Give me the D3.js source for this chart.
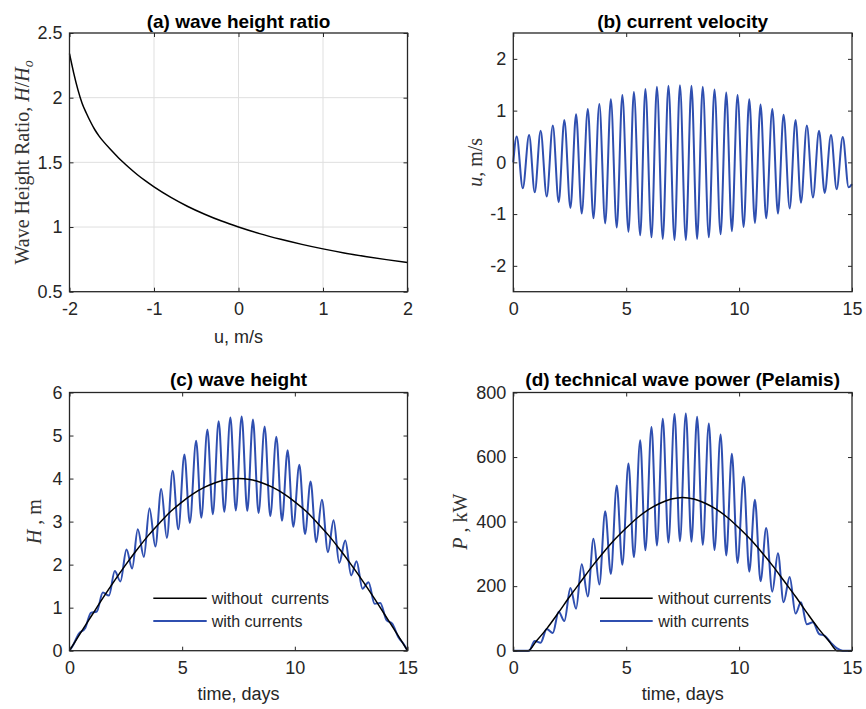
<!DOCTYPE html>
<html>
<head>
<meta charset="utf-8">
<script src="https://cdn.jsdelivr.net/npm/d3@7"></script>
<style>
  body { margin: 0; background: #fff; }
  svg { display: block; }
</style>
</head>
<body>
<svg id="chart"></svg>
<script>
"use strict";

// (a) wave height ratio vs current speed
const ratioU = [-2, -1.95, -1.9, -1.85, -1.8, -1.75, -1.7, -1.65, -1.6, -1.5, -1.4, -1.3, -1.2, -1.1, -1,
  -0.8, -0.6, -0.4, -0.2, 0, 0.25, 0.5, 0.75, 1, 1.25, 1.5, 1.75, 2];
const ratioH = [2.34, 2.19, 2.06, 1.955, 1.88, 1.812, 1.752, 1.703, 1.662, 1.59, 1.522, 1.462, 1.406,
  1.356, 1.31, 1.229, 1.159, 1.099, 1.046, 1.0, 0.949, 0.905, 0.866, 0.831, 0.80, 0.773, 0.748, 0.725];

// tidal extrema times (days), shared by (b), (c), (d) blue curves
const tideT = [0, 0.15, 0.42, 0.70, 0.95, 1.21, 1.48, 1.75, 2.01, 2.26, 2.53, 2.78, 3.03, 3.30,
  3.55, 3.81, 4.07, 4.32, 4.58, 4.83, 5.10, 5.34, 5.62, 5.85, 6.12, 6.36, 6.62, 6.87, 7.14, 7.38,
  7.64, 7.89, 8.14, 8.39, 8.66, 8.91, 9.18, 9.43, 9.68, 9.93, 10.20, 10.45, 10.70, 10.95, 11.20,
  11.47, 11.72, 11.97, 12.24, 12.50, 12.74, 13.00, 13.27, 13.54, 13.79, 14.07, 14.32, 14.59, 14.85, 15];

// (b) current velocity, m/s
const currentU = [0, 0.50, -0.50, 0.53, -0.58, 0.61, -0.66, 0.71, -0.77, 0.82, -0.88, 0.93, -0.99,
  1.03, -1.08, 1.13, -1.18, 1.22, -1.26, 1.30, -1.34, 1.36, -1.41, 1.42, -1.45, 1.46, -1.48,
  1.48, -1.50, 1.49, -1.50, 1.48, -1.48, 1.46, -1.45, 1.41, -1.39, 1.35, -1.33, 1.30, -1.25,
  1.22, -1.17, 1.12, -1.08, 1.03, -0.99, 0.92, -0.89, 0.82, -0.78, 0.71, -0.68, 0.61, -0.59,
  0.53, -0.52, 0.49, -0.48, -0.42];

// (c) wave height, m
const heightT = [0, 0.5, 1, 1.5, 2, 2.5, 3, 3.5, 4, 4.5, 5, 5.5, 6, 6.5, 7, 7.5, 8, 8.5, 9, 9.5,
  10, 10.5, 11, 11.5, 12, 12.5, 13, 13.5, 14, 14.5, 15];
const heightNoCur = [0, 0.42, 0.83, 1.24, 1.63, 2.00, 2.35, 2.68, 2.97, 3.24, 3.46, 3.65, 3.80,
  3.91, 3.98, 4.00, 3.98, 3.91, 3.80, 3.65, 3.46, 3.24, 2.97, 2.68, 2.35, 2.00, 1.63, 1.24, 0.83, 0.42, 0];
const heightCur = [0, 0.12, 0.40, 0.53, 0.88, 0.91, 1.35, 1.28, 1.85, 1.61, 2.35, 1.91, 2.82,
  2.18, 3.31, 2.42, 3.76, 2.62, 4.18, 2.82, 4.56, 2.97, 4.88, 3.09, 5.14, 3.17, 5.33, 3.23, 5.42,
  3.26, 5.44, 3.25, 5.37, 3.20, 5.21, 3.13, 4.97, 3.02, 4.66, 2.88, 4.32, 2.71, 3.93, 2.52, 3.51,
  2.29, 3.03, 2.04, 2.56, 1.75, 2.08, 1.44, 1.59, 1.09, 1.11, 0.71, 0.63, 0.32, 0.14, 0];

// (d) technical wave power, kW
const powerT = [0, 0.65, 1, 1.5, 2, 2.5, 3, 3.5, 4, 4.5, 5, 5.5, 6, 6.5, 7, 7.5, 8, 8.5, 9, 9.5,
  10, 10.5, 11, 11.5, 12, 12.5, 13, 13.5, 14, 14.35, 15];
const powerNoCur = [0, 0, 28, 70, 118, 168, 215, 262, 305, 345, 380, 412, 438, 457, 470, 475,
  470, 457, 438, 412, 380, 345, 305, 262, 215, 168, 118, 70, 28, 0, 0];
const powerCur = [0, 0, 0, 0, 30, 25, 67, 55, 121, 92, 194, 130, 268, 168, 347, 205, 432, 238,
  512, 266, 580, 290, 652, 311, 693, 326, 719, 335, 733, 339, 735, 338, 725, 328, 704, 312, 670,
  295, 610, 272, 539, 245, 468, 215, 380, 183, 302, 150, 228, 115, 150, 82, 88, 52, 46, 24, 8, 0, 0, 0];

const legendLabels = { c: ["without  currents", "with currents"], d: ["without currents", "with currents"] };

// ---- layout ----
const svgW = 866, svgH = 709;
const BLUE = "#2f4fb0", INK = "#262626";
const SANS = "'Liberation Sans', Arial, Helvetica, sans-serif";
const SERIF = "'Liberation Serif', 'Times New Roman', serif";

const svg = d3.select("#chart").attr("width", svgW).attr("height", svgH);

const boxes = {
  a: { x0: 69.5, x1: 407.5, y0: 33, y1: 291.7 },
  b: { x0: 513.3, x1: 852, y0: 33, y1: 291.7 },
  c: { x0: 69.5, x1: 407.5, y0: 392.5, y1: 650.7 },
  d: { x0: 513.3, x1: 852, y0: 392.5, y1: 650.7 }
};

function zipPts(xs, ys) { return xs.map((x, i) => [x, ys[i]]); }

function panel(b, xDom, yDom, xTicks, yTicks, grid) {
  const x = d3.scaleLinear().domain(xDom).range([b.x0, b.x1]);
  const y = d3.scaleLinear().domain(yDom).range([b.y1, b.y0]);
  const g = svg.append("g");

  if (grid) {
    g.selectAll(".gx").data(xTicks.slice(1, -1)).enter().append("line")
      .attr("x1", d => x(d)).attr("x2", d => x(d)).attr("y1", b.y0).attr("y2", b.y1)
      .attr("stroke", "#dfdfdf").attr("stroke-width", 1);
    g.selectAll(".gy").data(yTicks.slice(1, -1)).enter().append("line")
      .attr("y1", d => y(d)).attr("y2", d => y(d)).attr("x1", b.x0).attr("x2", b.x1)
      .attr("stroke", "#dfdfdf").attr("stroke-width", 1);
  }
  const plot = g.append("g");
  const ax = g.append("g");
  const fmt = d => String(d);

  ax.append("g").attr("transform", `translate(0,${b.y1})`)
    .call(d3.axisBottom(x).tickValues(xTicks).tickSizeInner(-4).tickSizeOuter(0).tickPadding(11).tickFormat(fmt));
  ax.append("g").attr("transform", `translate(0,${b.y0})`)
    .call(d3.axisTop(x).tickValues(xTicks).tickSizeInner(-4).tickSizeOuter(0).tickFormat(""));
  ax.append("g").attr("transform", `translate(${b.x0},0)`)
    .call(d3.axisLeft(y).tickValues(yTicks).tickSizeInner(-4).tickSizeOuter(0).tickPadding(7).tickFormat(fmt));
  ax.append("g").attr("transform", `translate(${b.x1},0)`)
    .call(d3.axisRight(y).tickValues(yTicks).tickSizeInner(-4).tickSizeOuter(0).tickFormat(""));

  ax.selectAll(".domain").remove();
  ax.selectAll(".tick line").attr("stroke", INK).attr("stroke-width", 1);
  ax.selectAll(".tick text").attr("fill", INK).style("font-family", SANS).style("font-size", "18px");

  ax.append("rect").attr("x", b.x0).attr("y", b.y0)
    .attr("width", b.x1 - b.x0).attr("height", b.y1 - b.y0)
    .attr("fill", "none").attr("stroke", INK).attr("stroke-width", 1.3);

  return { x, y, plot, g };
}

function addLine(p, pts, color, width) {
  p.plot.append("path")
    .datum(pts)
    .attr("fill", "none")
    .attr("stroke", color)
    .attr("stroke-width", width)
    .attr("stroke-linejoin", "round")
    .attr("d", d3.line().x(d => p.x(d[0])).y(d => p.y(d[1])).curve(d3.curveMonotoneX));
}

function title(b, txt, yBase) {
  svg.append("text")
    .attr("x", (b.x0 + b.x1) / 2).attr("y", yBase)
    .attr("text-anchor", "middle")
    .style("font-family", SANS).style("font-size", "19px").style("font-weight", "bold")
    .attr("fill", "#000")
    .text(txt);
}

function xLabel(b, txt, yBase) {
  svg.append("text")
    .attr("x", (b.x0 + b.x1) / 2).attr("y", yBase)
    .attr("text-anchor", "middle")
    .style("font-family", SANS).style("font-size", "18px")
    .attr("fill", INK)
    .text(txt);
}

// y label: parts = [[text, italic, sub], ...]
function yLabel(b, xBase, parts) {
  const t = svg.append("text")
    .attr("transform", `translate(${xBase},${(b.y0 + b.y1) / 2}) rotate(-90)`)
    .attr("text-anchor", "middle")
    .style("font-family", SERIF).style("font-size", "20px")
    .style("white-space", "pre")
    .attr("fill", "#333");
  let shifted = false;
  parts.forEach(([s, it, sub]) => {
    const ts = t.append("tspan").text(s);
    if (it) ts.style("font-style", "italic");
    if (sub) { ts.attr("dy", 4).style("font-size", "14px"); shifted = true; }
    else if (shifted) { ts.attr("dy", -4); shifted = false; }
  });
}

function legend(p, x0, x1, tx, rows, labels) {
  const colors = ["#000", BLUE];
  const widths = [1.5, 2];
  rows.forEach((ry, i) => {
    p.g.append("line").attr("x1", x0).attr("x2", x1).attr("y1", ry).attr("y2", ry)
      .attr("stroke", colors[i]).attr("stroke-width", widths[i]);
    p.g.append("text").attr("x", tx).attr("y", ry).attr("dy", "0.35em")
      .style("font-family", SANS).style("font-size", "16px").style("white-space", "pre")
      .attr("fill", INK).text(labels[i]);
  });
}

// ---- (a) ----
const pa = panel(boxes.a, [-2, 2], [0.5, 2.5], [-2, -1, 0, 1, 2], [0.5, 1, 1.5, 2, 2.5], true);
addLine(pa, zipPts(ratioU, ratioH), "#000", 1.5);
title(boxes.a, "(a) wave height ratio", 28);
xLabel(boxes.a, "u, m/s", 343);
yLabel(boxes.a, 29, [["Wave Height Ratio, ", false], ["H", true], ["/", false], ["H", true], ["o", true, true]]);

// ---- (b) ----
const pb = panel(boxes.b, [0, 15], [-2.5, 2.5], [0, 5, 10, 15], [-2, -1, 0, 1, 2], false);
addLine(pb, zipPts(tideT, currentU), BLUE, 2);
title(boxes.b, "(b) current velocity", 28);
yLabel(boxes.b, 482, [["u", true], [", m/s", false]]);

// ---- (c) ----
const pc = panel(boxes.c, [0, 15], [0, 6], [0, 5, 10, 15], [0, 1, 2, 3, 4, 5, 6], false);
addLine(pc, zipPts(tideT, heightCur), BLUE, 2);
addLine(pc, zipPts(heightT, heightNoCur), "#000", 1.5);
title(boxes.c, "(c) wave height", 386);
xLabel(boxes.c, "time, days", 700);
yLabel(boxes.c, 41, [["H", true], [" , m", false]]);
legend(pc, 153.3, 206.7, 211.7, [598.3, 621], legendLabels.c);

// ---- (d) ----
const pd = panel(boxes.d, [0, 15], [0, 800], [0, 5, 10, 15], [0, 200, 400, 600, 800], false);
addLine(pd, zipPts(tideT, powerCur), BLUE, 2);
addLine(pd, zipPts(powerT, powerNoCur), "#000", 1.5);
title(boxes.d, "(d) technical wave power (Pelamis)", 386);
xLabel(boxes.d, "time, days", 700);
yLabel(boxes.d, 467, [["P", true], [" , kW", false]]);
legend(pd, 600, 652.7, 658.3, [598.3, 621], legendLabels.d);
</script>
</body>
</html>
